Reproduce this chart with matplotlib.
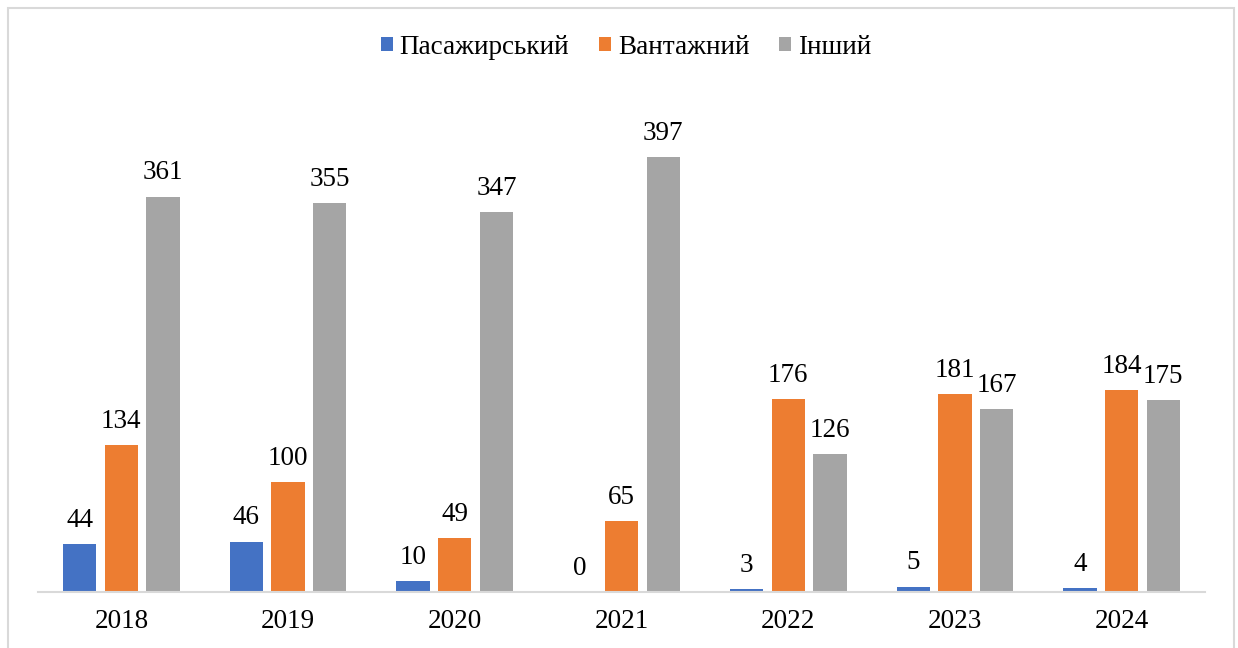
import matplotlib
matplotlib.use("agg")
import matplotlib.pyplot as plt
import numpy as np

years = ["2018", "2019", "2020", "2021", "2022", "2023", "2024"]
passenger = [44, 46, 10, 0, 3, 5, 4]
cargo = [134, 100, 49, 65, 176, 181, 184]
other = [361, 355, 347, 397, 126, 167, 175]
series_names = ["Пасажирський", "Вантажний", "Інший"]
colors = ["#4472C4", "#ED7D31", "#A5A5A5"]

plt.rcParams["font.family"] = ["Liberation Serif", "DejaVu Serif"]

W, H = 1238, 648
fig = plt.figure(figsize=(W / 100, H / 100), dpi=100)
ax = fig.add_axes([38 / W, (H - 592) / H, (1205 - 38) / W, (592 - 99) / H])

x = np.arange(len(years))
width = 0.2
step = 0.25
for i, (vals, name, col) in enumerate(zip([passenger, cargo, other], series_names, colors)):
    bars = ax.bar(x + (i - 1) * step, vals, width, color=col, label=name)
    ax.bar_label(bars, labels=[str(v) for v in vals], padding=8, fontsize=19.5)

ax.set_xlim(-0.5, len(years) - 0.5)
ax.set_ylim(0, 450)
ax.set_xticks(x)
ax.set_xticklabels(years, fontsize=19.5)
ax.tick_params(axis="x", length=0, pad=12)
ax.set_yticks([])
for s in ["top", "right", "left"]:
    ax.spines[s].set_visible(False)
ax.spines["bottom"].set_color("#D9D9D9")
ax.spines["bottom"].set_linewidth(1.5)

fig.legend(loc="center", bbox_to_anchor=(626 / W, 1 - 47 / H), ncol=3,
           frameon=False, fontsize=19.5, handlelength=0.45, handleheight=0.45,
           handletextpad=0.25, columnspacing=1.1)

border = plt.Rectangle((8 / W, -0.01), (1234 - 8) / W, 1 - 8 / H + 0.01,
                       transform=fig.transFigure, fill=False,
                       edgecolor="#D9D9D9", linewidth=1.5)
fig.patches.append(border)

fig.savefig("out.png", dpi=100)
